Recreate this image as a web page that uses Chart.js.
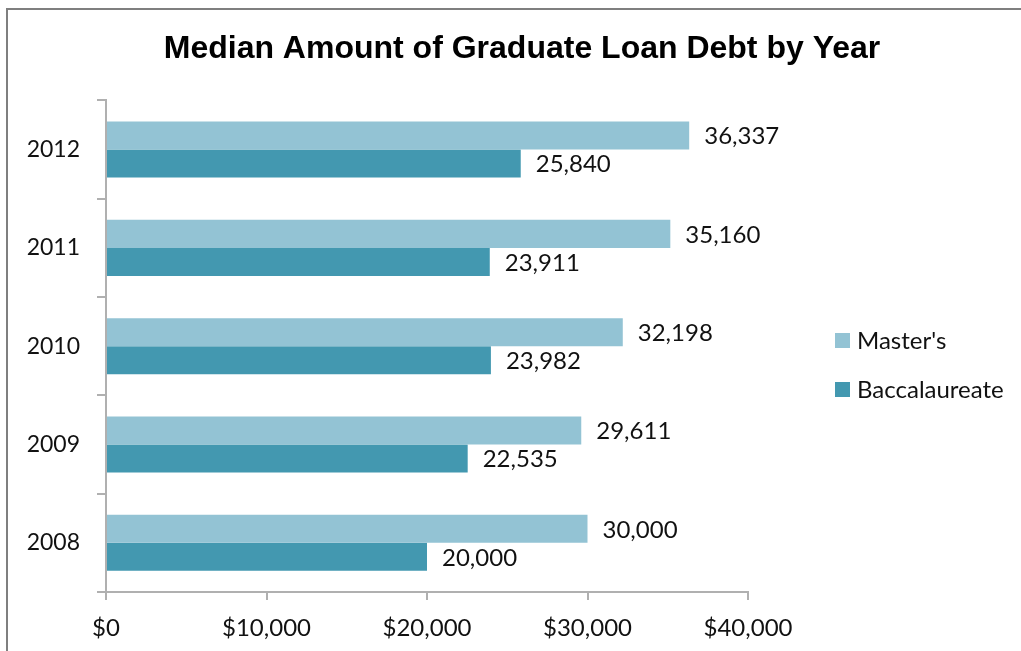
<!DOCTYPE html>
<html>
<head>
<meta charset="utf-8">
<script src="https://cdn.jsdelivr.net/npm/chart.js@4/dist/chart.umd.min.js"></script>
<style>
  html, body { margin: 0; padding: 0; background: #fff; }
  #wrap { position: relative; width: 1021px; height: 651px; overflow: hidden; }
  #frame { position: absolute; left: 6px; top: 8px; width: 1040px; height: 700px;
           border-left: 2px solid #7f7f7f; border-top: 2px solid #7f7f7f; box-sizing: border-box; }
  canvas { position: absolute; left: 0; top: 0; }
</style>
</head>
<body>
<div id="wrap">
  <div id="frame"></div>
  <canvas id="c" width="1021" height="651"></canvas>
</div>
<script>
const titleText = 'Median Amount of Graduate Loan Debt by Year';
const years = ['2008', '2009', '2010', '2011', '2012'];
const seriesNames = ["Master's", 'Baccalaureate'];
const mastersValues = [30000, 29611, 32198, 35160, 36337];
const baccalaureateValues = [20000, 22535, 23982, 23911, 25840];
const xTickValues = [0, 10000, 20000, 30000, 40000];

const FONT = 'Lato, "Open Sans", sans-serif';
const LABEL_SIZE = 24;

const dataLabels = {
  id: 'dataLabels',
  afterDatasetsDraw(chart) {
    const ctx = chart.ctx;
    ctx.save();
    ctx.font = LABEL_SIZE + 'px ' + FONT;
    ctx.fillStyle = '#111';
    ctx.textAlign = 'left';
    ctx.textBaseline = 'middle';
    chart.data.datasets.forEach((ds, i) => {
      chart.getDatasetMeta(i).data.forEach((bar, j) => {
        ctx.fillText(ds.data[j].toLocaleString('en-US'), bar.x + 15, bar.y + 1);
      });
    });
    ctx.restore();
  }
};

const sideLegend = {
  id: 'sideLegend',
  afterDraw(chart) {
    const ctx = chart.ctx;
    ctx.save();
    ctx.font = LABEL_SIZE + 'px ' + FONT;
    ctx.textBaseline = 'middle';
    ctx.textAlign = 'left';
    chart.data.datasets.forEach((ds, i) => {
      const cy = 340 + i * 49;
      ctx.fillStyle = ds.backgroundColor;
      ctx.fillRect(835, cy - 7, 15, 15);
      ctx.fillStyle = '#111';
      ctx.fillText(ds.label, 857, cy + 1);
    });
    ctx.restore();
  }
};

new Chart(document.getElementById('c'), {
  type: 'bar',
  data: {
    labels: years,
    datasets: [
      { label: seriesNames[0], data: mastersValues, backgroundColor: '#93c3d4', borderWidth: 0 },
      { label: seriesNames[1], data: baccalaureateValues, backgroundColor: '#4398b0', borderWidth: 0 }
    ]
  },
  options: {
    indexAxis: 'y',
    responsive: false,
    animation: false,
    devicePixelRatio: 1,
    layout: { padding: { left: 23, right: 0, top: 0, bottom: 0 } },
    datasets: { bar: { categoryPercentage: 0.57, barPercentage: 1.0 } },
    plugins: {
      legend: { display: false },
      tooltip: { enabled: false },
      title: {
        display: true,
        text: titleText,
        color: '#000',
        font: { family: '"Liberation Sans", Arial, sans-serif', size: 32, weight: 'bold' },
        padding: { top: 30, bottom: 32 }
      }
    },
    scales: {
      x: {
        min: 0, max: 40000,
        afterBuildTicks(scale) { scale.ticks = xTickValues.map(v => ({ value: v })); },
        afterFit(scale) { scale.height = 59; scale.paddingRight = 273; },
        border: { display: true, color: '#b0b0b0', width: 2 },
        grid: { drawOnChartArea: false, drawTicks: true, tickLength: 8, color: '#b0b0b0', lineWidth: 2 },
        ticks: {
          color: '#111',
          font: { family: FONT, size: LABEL_SIZE },
          padding: 14,
          maxRotation: 0,
          callback: v => '$' + Number(v).toLocaleString('en-US')
        }
      },
      y: {
        reverse: true,
        afterFit(scale) { scale.width = 83; },
        border: { display: true, color: '#b0b0b0', width: 2 },
        grid: { drawOnChartArea: false, drawTicks: true, tickLength: 9, color: '#b0b0b0', lineWidth: 2, offset: true },
        ticks: { color: '#111', font: { family: FONT, size: 23 }, padding: 17 }
      }
    }
  },
  plugins: [dataLabels, sideLegend]
});
</script>
</body>
</html>
